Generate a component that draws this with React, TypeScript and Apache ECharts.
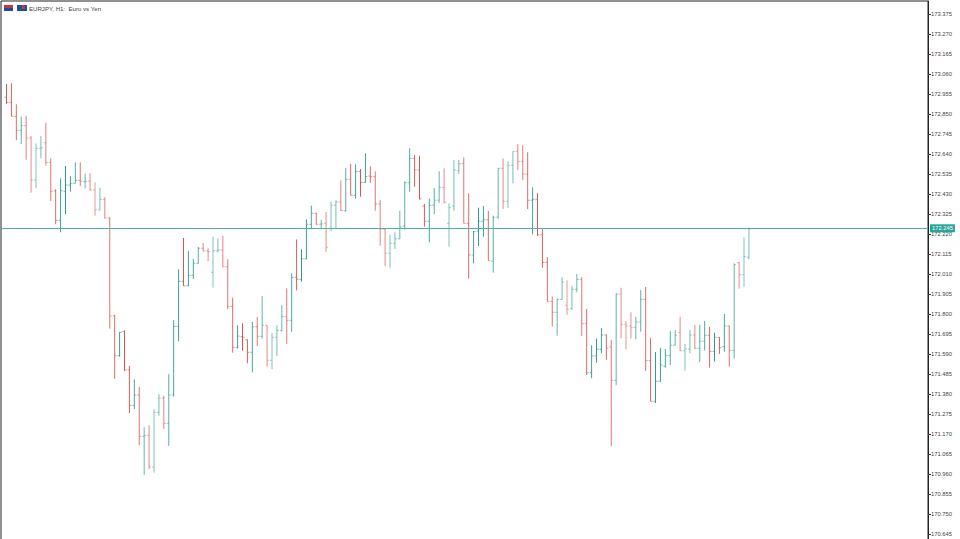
import React, { useEffect, useRef } from "react";
import * as echarts from "echarts";

const title = "EURJPY, H1:  Euro vs Yen";
const tickValues = [173.375,173.27,173.165,173.06,172.955,172.85,172.745,172.64,172.535,172.43,172.325,172.22,172.115,172.01,171.905,171.8,171.695,171.59,171.485,171.38,171.275,171.17,171.065,170.96,170.855,170.75,170.645];
const lastPrice = 172.245;

const opens = [172.938,172.911,172.838,172.764,172.789,172.724,172.503,172.670,172.699,172.596,172.447,172.292,172.444,172.477,172.486,172.502,172.495,172.498,172.451,172.346,172.402,172.304,171.790,171.581,171.709,171.506,171.321,171.375,171.158,171.163,170.997,171.284,171.359,171.226,171.375,171.735,171.972,171.948,172.003,172.066,172.145,172.131,172.019,172.132,172.136,172.048,171.840,171.625,171.681,171.664,171.599,171.733,171.683,171.741,171.557,171.678,171.714,171.786,171.767,171.993,171.982,172.090,172.271,172.329,172.271,172.276,172.250,172.371,172.388,172.342,172.507,172.423,172.549,172.491,172.524,172.521,172.378,172.245,172.119,172.171,172.195,172.262,172.489,172.617,172.556,172.367,172.287,172.371,172.398,172.465,172.276,172.367,172.554,172.591,172.276,172.110,172.236,172.287,172.294,172.077,172.308,172.565,172.392,172.581,172.654,172.602,172.535,172.397,172.402,172.216,172.071,171.867,171.809,171.877,171.846,171.828,171.930,171.982,171.749,171.492,171.580,171.615,171.690,171.627,171.452,171.905,171.746,171.737,171.730,171.758,171.877,171.555,171.342,171.447,171.525,171.583,171.636,171.702,171.607,171.616,171.690,171.620,171.657,171.688,171.604,171.678,171.628,171.737,171.609,172.069,172.006,172.098];
const highs = [173.008,173.011,172.901,172.836,172.841,172.734,172.696,172.734,172.804,172.617,172.455,172.512,172.577,172.524,172.596,172.596,172.537,172.540,172.491,172.463,172.413,172.308,171.796,171.705,171.714,171.527,171.457,171.417,171.205,171.216,171.300,171.380,171.371,171.485,171.768,172.035,172.199,172.131,172.089,172.152,172.173,172.145,172.206,172.197,172.210,172.087,171.886,171.741,171.751,171.667,171.758,171.784,171.894,171.741,171.700,171.741,171.846,171.935,172.014,172.192,172.140,172.297,172.369,172.332,172.294,172.335,172.392,172.397,172.502,172.567,172.588,172.586,172.561,172.644,172.575,172.549,172.398,172.250,172.216,172.229,172.342,172.497,172.670,172.635,172.631,172.378,172.405,172.461,172.549,172.565,172.381,172.608,172.608,172.622,172.434,172.236,172.358,172.367,172.341,172.316,172.567,172.617,172.602,172.654,172.692,172.686,172.649,172.465,172.434,172.245,172.098,171.891,171.881,171.993,171.977,171.947,172.010,171.993,171.826,171.636,171.672,171.727,171.693,171.664,171.909,171.938,171.763,171.809,171.786,171.926,171.942,171.674,171.600,171.622,171.616,171.711,171.716,171.786,171.643,171.716,171.742,171.742,171.763,171.733,171.702,171.679,171.800,171.739,172.066,172.073,172.203,172.255];
const lows = [172.903,172.838,172.712,172.692,172.610,172.437,172.461,172.617,172.579,172.393,172.271,172.229,172.325,172.442,172.486,172.472,172.460,172.446,172.316,172.344,172.302,171.723,171.460,171.576,171.502,171.279,171.301,171.112,170.956,170.985,170.967,171.266,171.196,171.108,171.366,171.657,171.948,171.946,171.984,172.064,172.129,172.078,171.938,172.122,172.045,171.825,171.597,171.618,171.607,171.541,171.494,171.632,171.670,171.523,171.511,171.581,171.707,171.643,171.707,171.924,171.970,172.087,172.245,172.269,172.245,172.127,172.234,172.252,172.342,172.337,172.423,172.405,172.416,172.489,172.489,172.342,172.159,172.052,172.043,172.141,172.193,172.243,172.442,172.468,172.402,172.258,172.176,172.325,172.384,172.381,172.153,172.342,172.535,172.276,171.985,172.066,172.157,172.206,172.080,172.017,172.300,172.351,172.357,172.486,172.556,172.503,172.351,172.218,172.210,172.043,171.865,171.733,171.686,171.875,171.795,171.821,171.914,171.685,171.480,171.463,171.544,171.594,171.559,171.107,171.426,171.672,171.615,171.672,171.667,171.707,171.501,171.342,171.333,171.445,171.518,171.532,171.634,171.606,171.502,171.594,171.616,171.548,171.609,171.518,171.550,171.590,171.602,171.523,171.567,171.933,171.943,172.087];
const closes = [172.911,172.838,172.764,172.789,172.724,172.503,172.670,172.673,172.596,172.444,172.292,172.447,172.477,172.486,172.502,172.498,172.497,172.451,172.346,172.402,172.304,171.790,171.581,171.704,171.506,171.321,171.375,171.158,171.163,170.997,171.284,171.359,171.226,171.375,171.735,171.972,171.948,172.003,172.066,172.145,172.131,172.127,172.132,172.136,172.048,171.840,171.625,171.684,171.678,171.599,171.733,171.683,171.741,171.557,171.678,171.714,171.786,171.767,171.993,171.982,172.090,172.271,172.329,172.271,172.273,172.150,172.371,172.388,172.344,172.507,172.423,172.549,172.491,172.521,172.521,172.378,172.245,172.119,172.171,172.195,172.258,172.489,172.617,172.556,172.404,172.287,172.371,172.398,172.465,172.386,172.358,172.556,172.588,172.276,172.110,172.232,172.287,172.294,172.080,172.308,172.565,172.392,172.581,172.654,172.602,172.535,172.397,172.402,172.216,172.071,171.867,171.809,171.877,171.968,171.825,171.930,171.982,171.749,171.492,171.580,171.615,171.690,171.620,171.452,171.905,171.746,171.737,171.728,171.758,171.877,171.555,171.342,171.447,171.532,171.583,171.636,171.688,171.607,171.616,171.690,171.620,171.657,171.688,171.604,171.678,171.623,171.737,171.609,172.059,172.006,172.101,172.246];

const UP = "#2a9d91";
const DOWN = "#d9534f";
const X_MIN = -1.1186;
const X_MAX = 187.42;

function renderBar(_params: any, api: any) {
  const i = api.value(0);
  const o = api.value(1);
  const h = api.value(2);
  const l = api.value(3);
  const c = api.value(4);
  const px = api.coord([i, h])[0];
  const color = c >= o ? UP : DOWN;
  const frac = px - Math.floor(px);
  const blur = Math.abs(frac - 0.5) * 2;
  const opacity = 1 - 0.4 * blur;
  const style = { stroke: color, lineWidth: 1, fill: "none", opacity };
  const tickStyle = { stroke: color, lineWidth: 1, fill: "none", opacity: opacity * 0.7 };
  const yOf = (v: number) => api.coord([i, v])[1];
  return {
    type: "group",
    children: [
      { type: "line", shape: { x1: px, y1: yOf(h), x2: px, y2: yOf(l) }, style },
      { type: "line", shape: { x1: px - 2, y1: yOf(o), x2: px, y2: yOf(o) }, style: tickStyle },
      { type: "line", shape: { x1: px, y1: yOf(c), x2: px + 2, y2: yOf(c) }, style: tickStyle },
    ],
  };
}

export default function App() {
  const ref = useRef<HTMLDivElement>(null);
  useEffect(() => {
    document.body.style.margin = "0";
    document.body.style.background = "#fff";
    document.body.style.overflow = "hidden";
    const chart = echarts.init(ref.current as HTMLDivElement, undefined, { renderer: "svg" });
    const rows = opens.map((o, i) => [i, o, highs[i], lows[i], closes[i]]);
    chart.setOption({
      animation: false,
      backgroundColor: "#ffffff",
      grid: { left: 1, top: 1, right: 32, bottom: 2, show: true, borderColor: "#222", borderWidth: 1, backgroundColor: "#fff" },
      xAxis: { type: "value", min: X_MIN, max: X_MAX, show: false },
      yAxis: {
        type: "value",
        position: "right",
        min: 170.6135,
        max: 173.44325,
        scale: true,
        splitLine: { show: false },
        axisLine: { show: true, onZero: false, lineStyle: { color: "#222", width: 1 } },
        axisTick: { show: true, length: 3, customValues: tickValues, lineStyle: { color: "#333", width: 1 } },
        axisLabel: {
          customValues: tickValues,
          margin: 3,
          color: "#444",
          fontSize: 5.8,
          fontFamily: "Liberation Sans",
          formatter: (v: number) => v.toFixed(3),
        },
      },
      graphic: [
        { type: "rect", shape: { x: 4, y: 5, width: 9, height: 3 }, style: { fill: "#c8383a" } },
        { type: "rect", shape: { x: 4, y: 8, width: 9, height: 3 }, style: { fill: "#1f4e96" } },
        { type: "rect", shape: { x: 17, y: 5, width: 10, height: 6 }, style: { fill: "#1f4e96" } },
        { type: "rect", shape: { x: 22, y: 5, width: 3, height: 4 }, style: { fill: "#c8383a" } },
        { type: "text", x: 29, y: 5, style: { text: title, font: "6.1px 'Liberation Sans'", fill: "#444" } },
      ],
      series: [
        {
          type: "custom",
          renderItem: renderBar,
          data: rows,
          encode: { x: 0, y: [1, 2, 3, 4] },
          clip: true,
          markLine: {
            silent: true,
            symbol: "none",
            animation: false,
            data: [{ yAxis: lastPrice }],
            lineStyle: { color: "#4fb0a6", width: 1, type: "solid" },
            label: {
              show: true,
              position: "end",
              distance: 2,
              formatter: lastPrice.toFixed(3),
              backgroundColor: "#26a69a",
              color: "#fff",
              fontSize: 5.8,
              fontFamily: "Liberation Sans",
              padding: [1, 2],
            },
          },
        },
      ],
    });
    return () => chart.dispose();
  }, []);
  return (
    <div style={{ width: 960, height: 539, overflow: "hidden" }}>
      <div ref={ref} style={{ width: 960, height: 542 }} />
    </div>
  );
}
